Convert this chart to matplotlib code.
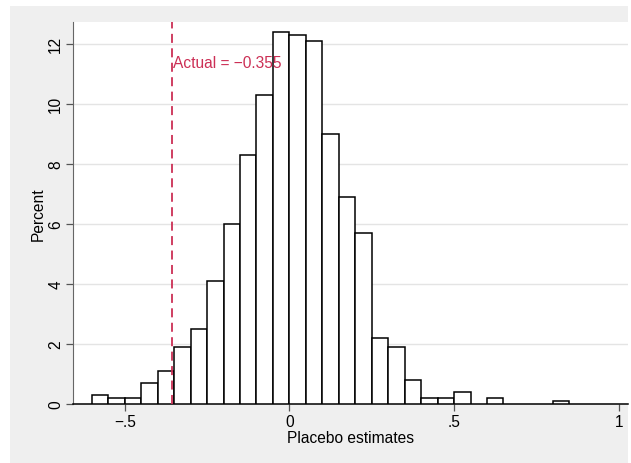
import numpy as np
import matplotlib
matplotlib.use('Agg')
import matplotlib.pyplot as plt
from matplotlib.patches import Rectangle

plt.rcParams['font.family'] = ['Liberation Sans', 'DejaVu Sans']

# histogram of placebo estimates (bin width .05, percent)
bin_edges = np.round(np.arange(-0.60, 0.85 + 1e-9, 0.05), 2)
percent = [0.3, 0.2, 0.2, 0.7, 1.1, 1.9, 2.5, 4.1, 6.0, 8.3, 10.3, 12.4,
           12.3, 12.1, 9.0, 6.9, 5.7, 2.2, 1.9, 0.8, 0.2, 0.2, 0.4, 0.0,
           0.2, 0.0, 0.0, 0.0, 0.1]
actual = -0.355
actual_label = 'Actual = \u22120.355'
x_ticks = [-0.5, 0, 0.5, 1]
x_ticklabels = ['\u2212.5', '0', '.5', '1']
y_ticks = [0, 2, 4, 6, 8, 10, 12]

W, H = 631, 464
fig = plt.figure(figsize=(W / 100, H / 100), dpi=100)
fig.patch.set_facecolor('white')
# gray graph region (Stata style)
fig.patches.append(Rectangle((10 / W, 0), (628 - 10) / W, (H - 7) / H,
                             transform=fig.transFigure, facecolor='#efefef',
                             edgecolor='none', zorder=-10))

ax = fig.add_axes([73 / W, (H - 405) / H, (628 - 73) / W, (405 - 23) / H])
ax.set_facecolor('white')

lefts = bin_edges[:-1]
heights = np.array(percent)
mask = heights > 0
ax.bar(lefts[mask], heights[mask], width=0.05, align='edge',
       facecolor='white', edgecolor='black', linewidth=1.1, zorder=3)

crimson = '#cc2f55'
ax.axvline(actual, color=crimson, linestyle=(0, (5, 3)), linewidth=1.3, zorder=4)
ax.text(actual + 0.003, 11.37, actual_label, color=crimson, fontsize=11.2,
        ha='left', va='center', zorder=5)

ax.set_xlim(-0.657, 1.028)
ax.set_ylim(0, 12.73)
ax.set_xticks(x_ticks)
ax.set_xticklabels(x_ticklabels)
ax.set_yticks(y_ticks)
ax.set_yticklabels([str(v) for v in y_ticks], rotation=90, va='center')
ax.yaxis.grid(True, color='#e4e4e4', linewidth=1.0, zorder=0)
ax.set_axisbelow(True)

for s in ['top', 'right']:
    ax.spines[s].set_visible(False)
ax.spines['left'].set_color('#666666')
ax.spines['bottom'].set_color('black')
ax.spines['bottom'].set_linewidth(1.1)
ax.tick_params(axis='both', direction='out', length=5, width=0.9,
               color='#555555', labelsize=11.2, pad=2)

ax.set_xlabel('Placebo estimates', fontsize=11.2, labelpad=1)
ax.set_ylabel('Percent', fontsize=11.2, labelpad=2)

fig.savefig('out.png', dpi=100)
